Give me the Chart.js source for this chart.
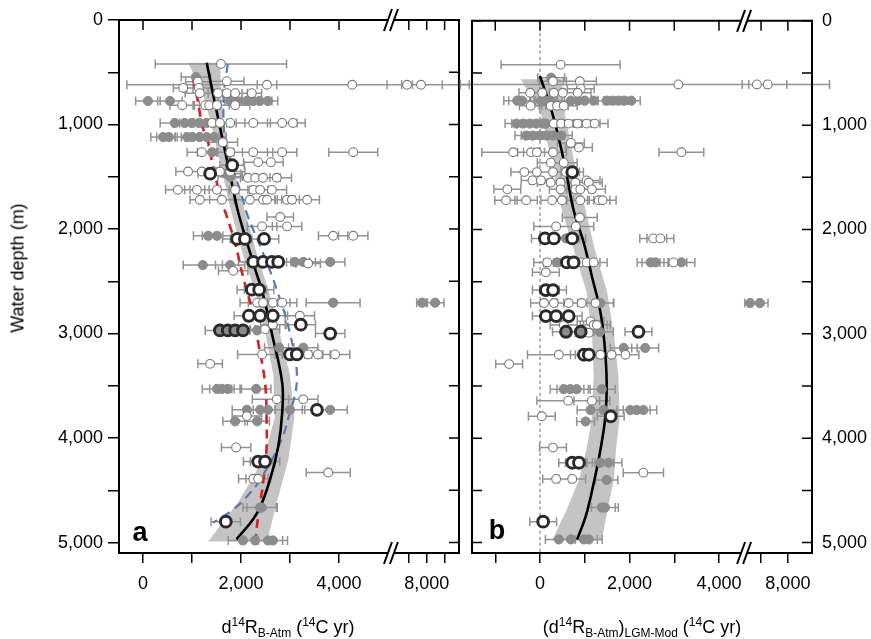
<!DOCTYPE html>
<html>
<head>
<meta charset="utf-8">
<script src="https://cdn.jsdelivr.net/npm/chart.js@4.4.0/dist/chart.umd.min.js"></script>
<style>
  body { margin: 0; background: #fff; width: 871px; height: 639px; overflow: hidden; position: relative;
         font-family: 'Liberation Sans', Arial, sans-serif; }
  canvas { position: absolute; top: 0; }
  .t { position: absolute; font-size: 18px; white-space: nowrap; color: #000; transform: translate(-50%, -50%); }
  .t sup, .t sub { font-size: 12px; line-height: 0; }
  .lab { position: absolute; font-size: 27px; font-weight: bold; color: #000; transform: translate(-50%, -50%); }
</style>
</head>
<body>
<canvas id="ca" width="470" height="639" style="left:0"></canvas>
<canvas id="cb" width="416" height="639" style="left:455px"></canvas>

<div class="t" style="left:18px;top:268px;transform:translate(-50%,-50%) rotate(-90deg)">Water depth (m)</div>
<div class="t" style="left:288px;top:627px">d<sup>14</sup>R<sub>B-Atm</sub> (<sup>14</sup>C yr)</div>
<div class="t" style="left:642px;top:627px">(d<sup>14</sup>R<sub>B-Atm</sub>)<sub>LGM-Mod</sub> (<sup>14</sup>C yr)</div>
<div class="lab" style="left:140px;top:532px">a</div>
<div class="lab" style="left:497px;top:530px">b</div>

<script>
// ---- panel a : d14R B-Atm  [x (14C yr), depth (m), error] ----
const openA = [
  [1590,420,1340],
  [1120,590,250],[1710,585,350],[2530,620,200],[4270,620,4600],[6900,620,300],[7680,620,2700],
  [820,650,200],[1140,650,250],
  [1160,700,300],[1530,700,200],[1710,700,200],[1880,700,250],[2220,700,200],
  [800,815,250],[1270,815,250],[1350,815,200],[1510,815,250],[1880,815,300],
  [1410,985,300],[1570,985,250],[1780,985,300],[2250,985,350],[2840,985,300],[3060,985,250],
  [1630,1170,300],
  [1200,1265,300],[1780,1265,250],[2250,1265,400],[2840,1265,300],[4290,1265,500],
  [2350,1360,300],[2610,1360,250],
  [920,1450,250],[1200,1450,300],[1570,1450,250],[1780,1450,300],
  [2140,1510,350],[2290,1510,300],[2450,1510,350],[2730,1510,300],
  [710,1625,250],[1100,1625,250],[1510,1625,250],[1880,1625,300],[2250,1625,300],[2390,1625,250],[2630,1625,300],
  [1160,1720,200],[1610,1720,250],[2180,1720,300],[2450,1720,250],[2530,1720,300],[2940,1720,250],[3040,1720,300],[3350,1720,250],
  [2800,1885,270],[2430,1975,300],[2940,1975,300],
  [3880,2065,300],[4290,2065,300],
  [3370,2330,250],[1840,2400,300],
  [2330,2705,350],[2450,2705,300],[2650,2705,350],[2840,2705,300],
  [3200,2830,300],[2650,2915,250],[2490,2960,300],
  [2430,3200,500],[3370,3200,300],[3570,3200,250],[3920,3200,300],
  [1370,3290,250],
  [2730,3630,500],[3270,3630,300],
  [2120,3790,300],
  [1900,4090,300],
  [3780,4330,450],
  [2250,4390,300],[2350,4390,250]
];
const filledA = [
  [1080,545,300],
  [100,775,250],[550,775,250],[1780,775,250],[1920,775,250],[2120,775,300],[2250,775,250],[2380,775,250],[2550,775,200],
  [650,985,300],[850,985,250],[1000,985,250],[1150,985,300],[1300,985,250],
  [410,1120,250],[530,1120,250],[900,1120,250],[1000,1120,300],[1150,1120,300],[1300,1120,250],[1450,1120,250],
  [1410,1265,300],
  [1700,1470,300],[1780,1500,250],
  [1330,2065,300],[1510,2065,300],
  [3100,2315,300],[3270,2315,250],[3820,2315,300],
  [1220,2345,400],[1780,2345,300],
  [3880,2705,550],[7740,2705,300],[8470,2705,500],
  [2330,2970,300],
  [2780,3135,300],[3270,3135,300],
  [1510,3530,300],[1610,3530,250],[1730,3530,250],[2310,3530,300],
  [2120,3730,300],[2390,3730,300],[2550,3730,300],[3000,3730,300],[3820,3730,350],
  [1880,3840,250],[2330,3840,250],
  [2390,4665,350],[2420,4665,300],
  [2040,4980,300],[2290,4980,300],[2550,4980,300],[2650,4980,300]
];
const ringA = [
  [1820,1390,250],[1370,1470,250],
  [1920,2095,300],[2080,2095,300],[2470,2095,300],
  [2250,2315,300],[2450,2315,300],[2630,2315,300],[2760,2315,300],
  [2220,2580,300],[2370,2580,300],
  [2160,2830,300],[2390,2830,300],[2650,2830,300],
  [3220,2915,300],[3820,3000,300],
  [3000,3200,300],[3140,3200,300],
  [3550,3730,300],
  [2350,4225,300],[2490,4225,300],
  [1690,4800,300]
];
const ringFilledA = [[1570,2970,300],[1730,2970,250],[1880,2970,300],[2040,2970,250]];
// fit curves [depth, x]
const fitA = [[410,1300],[800,1470],[1200,1650],[1600,1830],[1835,1940],[2095,2100],[2400,2300],[2610,2440],
  [3000,2630],[3470,2840],[3760,2840],[4080,2760],[4400,2590],[4715,2330],[4970,1910]];
const bandA = [[410,920,1580],[700,1220,1590],[1000,1390,1650],[1400,1590,1840],[1800,1780,2060],[2200,2010,2300],
  [2600,2290,2570],[3000,2500,2790],[3400,2660,3000],[3800,2690,3090],[4200,2460,2970],[4600,1960,2740],[4990,1330,2530]];
const redA = [[560,1020],[800,1130],[1000,1200],[1190,1340],[1360,1410],[1710,1590],[1880,1710],[2135,1880],[2455,2040],
  [2765,2220],[3085,2350],[3470,2490],[3790,2520],[4110,2520],[4430,2450],[4750,2350],[5000,2290]];
const blueA = [[420,1730],[710,1650],[1030,1650],[1190,1690],[1720,2040],[1880,2140],[2230,2450],[2580,2730],[3000,3000],
  [3440,3140],[3820,2960],[4045,2800],[4400,2390],[4560,2120],[4685,1840],[4810,1430]];

// ---- panel b : (d14R B-Atm) LGM-Mod ----
const openB = [
  [460,420,1330],
  [290,580,300],[890,580,370],[910,650,300],
  [3090,610,4870],[6845,610,300],[7250,610,2300],
  [-220,690,250],[50,690,250],[310,690,250],[510,690,300],[840,690,300],
  [-210,815,250],[240,815,250],[380,815,250],[530,815,300],
  [310,985,300],[470,985,300],[640,985,300],[840,985,300],[1040,985,300],[1220,985,300],
  [690,1170,300],[870,1215,300],
  [-600,1260,700],[-200,1260,300],[-70,1260,300],[290,1260,300],[3160,1260,500],
  [240,1360,300],[530,1360,300],
  [-350,1450,300],[-70,1450,300],[290,1450,300],[580,1450,300],
  [-170,1530,250],[20,1530,250],[1040,1530,300],
  [240,1550,300],[460,1550,300],[790,1550,300],[1090,1550,300],
  [-730,1615,300],[460,1615,250],[790,1615,300],[900,1615,300],[1160,1615,300],
  [-760,1720,250],[-310,1720,250],[270,1720,250],[490,1720,250],[900,1720,300],[1310,1720,250],[1400,1720,300],
  [890,1885,390],[360,1970,500],[800,1970,400],
  [2530,2085,300],[2690,2085,300],
  [160,2315,300],[910,2315,300],[1040,2315,300],[1200,2315,300],[2980,2315,300],
  [130,2410,300],
  [90,2705,300],[310,2705,300],[640,2705,300],[930,2705,400],[1240,2705,400],
  [1130,2880,300],
  [530,2915,300],[1200,2915,300],[1270,2915,300],[1090,2990,300],
  [420,3200,700],[1350,3200,300],[1600,3200,300],[1910,3200,300],
  [-690,3290,300],
  [630,3640,700],[1160,3640,400],
  [40,3790,300],
  [290,4090,300],
  [2310,4330,450],
  [360,4390,300],[720,4390,300]
];
const filledB = [
  [250,545,300],
  [-510,765,300],[-400,765,300],[20,765,250],[120,765,250],[240,765,250],[690,765,300],[850,765,300],[1000,765,300],
  [1200,765,250],[1490,765,200],[1620,765,200],[1750,765,200],[1880,765,200],[2040,765,200],
  [-530,985,250],[-380,985,250],[-230,985,250],[-80,985,250],[60,985,250],[130,985,250],
  [-310,1100,250],[-170,1100,250],[0,1100,250],[150,1100,250],[300,1100,250],[470,1100,250],
  [580,2085,300],
  [380,2315,300],[2470,2315,300],[2580,2315,300],[3160,2315,300],
  [1350,2705,300],[6590,2705,300],[6960,2705,300],
  [980,2980,300],[1340,2980,300],
  [1870,3135,300],[2350,3135,300],
  [530,3530,300],[680,3530,300],[820,3530,300],[1380,3530,300],
  [1130,3730,300],[1420,3730,300],[2020,3730,300],[2160,3730,300],[2310,3730,300],
  [1020,3840,200],
  [1350,4235,300],[1530,4235,300],
  [1490,4400,250],
  [1380,4665,300],[1450,4665,300],
  [420,4970,300],[690,4970,300],[980,4970,300],[1090,4970,300]
];
const ringB = [
  [720,1450,250],
  [110,2085,300],[310,2085,300],[720,2085,300],
  [600,2315,300],[750,2315,300],
  [130,2580,300],[290,2580,300],
  [130,2830,300],[360,2830,300],[640,2830,300],
  [2200,2980,300],
  [980,3200,300],[1090,3200,300],
  [1580,3790,300],
  [720,4235,300],[870,4235,300],
  [70,4800,300]
];
const ringFilledB = [[580,2980,300],[910,2980,300]];
const fitB = [[530,0],[880,270],[1200,460],[1510,610],[1830,760],[2130,980],[2450,1160],[2770,1340],[3090,1440],
  [3470,1490],[3790,1460],[4110,1350],[4430,1200],[4750,1020],[4970,830]];
const bandB = [[560,-430,480],[900,30,560],[1300,230,740],[1800,480,1010],[2200,760,1230],[2600,1040,1500],
  [3000,1160,1650],[3400,1200,1750],[3800,1160,1780],[4100,1040,1700],[4400,870,1650],[4700,580,1500],[4980,270,1380]];

// ---- axes ----
const depthTicks = [0,500,1000,1500,2000,2500,3000,3500,4000,4500,5000];
const xTicksA = [0,1000,2000,3000,4000,7000,8000,9000];
const xLabelsA = ['0','','2,000','','4,000','','8,000',''];
const xTicksB = [-1000,0,1000,2000,3000,4000,7000,8000];
const xLabelsB = ['','0','','2,000','','4,000','','8,000'];

// broken x axis: squash the values past the break
const squashA = x => x <= 5000 ? x : (x < 5948 ? 5000 + (x - 5000) * 41 / 948 : 5790 + (x - 8000) * 0.365);
const squashB = x => x <= 4500 ? x : (x < 6400 ? 4500 + (x - 4500) * 79 / 1900 : 4939 + (x - 7000) * 0.6);

const FONT = { family: "'Liberation Sans', Arial, sans-serif", size: 18 };

function scatterSet(arr, f, style, order) {
  return Object.assign({
    type: 'scatter',
    data: arr.map(p => ({ x: f(p[0]), y: p[1] })),
    order: order
  }, style);
}

function lineSet(arr, f, color, width, dash) {
  return {
    type: 'line',
    data: arr.map(p => ({ x: f(p[1]), y: p[0] })),
    borderColor: color, borderWidth: width, borderDash: dash,
    pointRadius: 0, fill: false, tension: 0.4, order: 6
  };
}

const openStyle = { pointRadius: 4.4, pointBackgroundColor: '#fff', pointBorderColor: '#7a7a7a', pointBorderWidth: 1.1 };
const filledStyle = { pointRadius: 4.6, pointBackgroundColor: '#8c8c8c', pointBorderColor: '#8c8c8c', pointBorderWidth: 1 };
const ringStyle = { pointRadius: 5.4, pointBackgroundColor: '#fff', pointBorderColor: '#2a2a2a', pointBorderWidth: 3 };
const ringFilledStyle = { pointRadius: 5.4, pointBackgroundColor: '#8c8c8c', pointBorderColor: '#2a2a2a', pointBorderWidth: 3 };

function makePanel(id, p) {
  const f = p.f;
  const datasets = [
    scatterSet(p.ring, f, ringStyle, 1),
    scatterSet(p.ringFilled, f, ringFilledStyle, 1),
    scatterSet(p.open, f, openStyle, 2),
    scatterSet(p.filled, f, filledStyle, 3),
    lineSet(p.fit, f, '#000', 2.6, [])
  ];
  p.extra.forEach(c => datasets.push(lineSet(c.data, f, c.color, c.width, [9, 6])));

  const decor = {
    id: 'decor' + id,
    beforeDatasetsDraw(chart) {
      const { ctx, chartArea: ca, scales: { x, y } } = chart;
      ctx.save();
      ctx.beginPath();
      ctx.rect(ca.left, ca.top, ca.right - ca.left, ca.bottom - ca.top);
      ctx.clip();
      // confidence band
      ctx.fillStyle = '#c4c4c4';
      ctx.beginPath();
      p.band.forEach((b, i) => {
        const px = x.getPixelForValue(f(b[1])), py = y.getPixelForValue(b[0]);
        i ? ctx.lineTo(px, py) : ctx.moveTo(px, py);
      });
      p.band.slice().reverse().forEach(b => ctx.lineTo(x.getPixelForValue(f(b[2])), y.getPixelForValue(b[0])));
      ctx.closePath();
      ctx.fill();
      // zero line
      if (p.zeroLine) {
        const x0 = x.getPixelForValue(0);
        ctx.strokeStyle = '#666'; ctx.lineWidth = 1; ctx.setLineDash([3, 3]);
        ctx.beginPath(); ctx.moveTo(x0, ca.top); ctx.lineTo(x0, ca.bottom); ctx.stroke();
        ctx.setLineDash([]);
      }
      ctx.restore();
      // error bars (not clipped sideways)
      ctx.save();
      ctx.strokeStyle = '#939393'; ctx.lineWidth = 1.5;
      ctx.beginPath();
      [p.open, p.filled, p.ring, p.ringFilled].forEach(arr => arr.forEach(([v, d, e]) => {
        const py = y.getPixelForValue(d);
        const x1 = x.getPixelForValue(f(v - e)), x2 = x.getPixelForValue(f(v + e));
        ctx.moveTo(x1, py); ctx.lineTo(x2, py);
        ctx.moveTo(x1, py - 4.5); ctx.lineTo(x1, py + 4.5);
        ctx.moveTo(x2, py - 4.5); ctx.lineTo(x2, py + 4.5);
      }));
      ctx.stroke();
      ctx.restore();
    },
    afterDraw(chart) {
      const { ctx, chartArea: { left, right, top, bottom }, scales: { x, y } } = chart;
      const xb = x.getPixelForValue(p.breakU);
      ctx.save();
      ctx.strokeStyle = '#000'; ctx.lineWidth = 2; ctx.lineCap = 'square';
      ctx.beginPath();
      ctx.moveTo(left, top); ctx.lineTo(xb - 3, top); ctx.moveTo(xb + 3, top); ctx.lineTo(right, top);
      ctx.moveTo(left, bottom); ctx.lineTo(xb - 3, bottom); ctx.moveTo(xb + 3, bottom); ctx.lineTo(right, bottom);
      ctx.moveTo(left, top); ctx.lineTo(left, bottom);
      ctx.moveTo(right, top); ctx.lineTo(right, bottom);
      ctx.stroke();
      ctx.lineCap = 'butt'; ctx.lineWidth = 1.5;
      ctx.beginPath();
      p.xTicks.forEach(v => {
        const px = x.getPixelForValue(f(v));
        ctx.moveTo(px, top); ctx.lineTo(px, top + 10);
      });
      depthTicks.forEach(v => {
        const py = y.getPixelForValue(v);
        ctx.moveTo(right, py); ctx.lineTo(right - 10, py);
        if (p.innerLeft) { ctx.moveTo(left, py); ctx.lineTo(left + 10, py); }
      });
      ctx.stroke();
      // break marks
      ctx.lineWidth = 2;
      [top, bottom].forEach(yy => {
        ctx.fillStyle = '#fff';
        ctx.fillRect(xb - 3, yy - 2, 6, 4);
        ctx.beginPath();
        [-3, 3].forEach(o => { ctx.moveTo(xb + o - 4, yy + 11); ctx.lineTo(xb + o + 4, yy - 11); });
        ctx.stroke();
      });
      ctx.restore();
    }
  };

  return new Chart(document.getElementById(id), {
    type: 'scatter',
    data: { datasets },
    options: {
      responsive: false, animation: false, devicePixelRatio: 1, events: [],
      layout: { padding: p.padding },
      plugins: { legend: { display: false }, tooltip: { enabled: false } },
      scales: {
        x: {
          type: 'linear', min: p.xMin, max: p.xMax,
          afterBuildTicks: s => { s.ticks = p.xTicks.map(v => ({ value: f(v) })); },
          afterFit: s => { s.height = 86; },
          ticks: { callback: (v, i) => p.xLabels[i], font: FONT, color: '#000', padding: 10, autoSkip: false, maxRotation: 0 },
          grid: { drawOnChartArea: false, tickLength: 10, color: '#000', lineWidth: 1.5 },
          border: { display: false }
        },
        y: {
          type: 'linear', position: p.yPos, reverse: true, min: 0, max: 5100,
          afterBuildTicks: s => { s.ticks = depthTicks.map(v => ({ value: v })); },
          afterFit: s => { s.width = p.yWidth; },
          ticks: {
            callback: v => v % 1000 === 0 ? v.toLocaleString('en-US') : '',
            font: FONT, color: '#000', padding: p.yPad, autoSkip: false
          },
          grid: { drawOnChartArea: false, drawTicks: p.yPos === 'left', tickLength: 11, color: '#000', lineWidth: 1.5 },
          border: { display: false }
        }
      }
    },
    plugins: [decor]
  });
}

makePanel('ca', {
  f: squashA, open: openA, filled: filledA, ring: ringA, ringFilled: ringFilledA,
  fit: fitA, band: bandA,
  extra: [{ data: redA, color: '#d42027', width: 2.6 }, { data: blueA, color: '#5c79b5', width: 2.2 }],
  xTicks: xTicksA, xLabels: xLabelsA, xMin: -490, xMax: 6449, breakU: 5060,
  yPos: 'left', yWidth: 119, yPad: 5, innerLeft: false, zeroLine: false,
  padding: { left: 0, top: 20, right: 11, bottom: 0 }
});

makePanel('cb', {
  f: squashB, open: openB, filled: filledB, ring: ringB, ringFilled: ringFilledB,
  fit: fitB, band: bandB, extra: [],
  xTicks: xTicksB, xLabels: xLabelsB, xMin: -1520, xMax: 6078, breakU: 4560,
  yPos: 'right', yWidth: 59, yPad: 10, innerLeft: true, zeroLine: true,
  padding: { left: 17, top: 20, right: 0, bottom: 0 }
});
</script>
</body>
</html>
